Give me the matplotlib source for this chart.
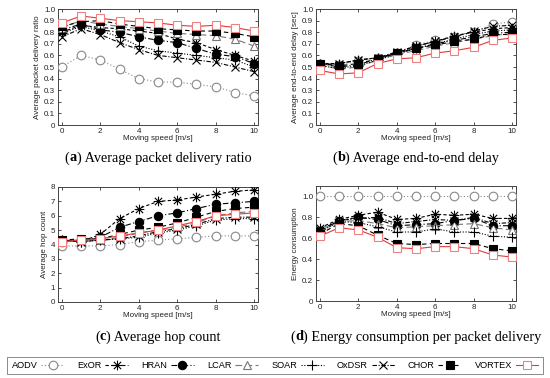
import matplotlib
matplotlib.use("Agg")
import matplotlib.pyplot as plt
from matplotlib.path import Path
import numpy as np

speed = [0, 1, 2, 3, 4, 5, 6, 7, 8, 9, 10]
protocols = ["AODV", "ExOR", "HRAN", "LCAR", "SOAR", "OxDSR", "CHOR", "VORTEX"]

pdr = {
    "AODV":   [0.50, 0.60, 0.56, 0.48, 0.40, 0.37, 0.37, 0.35, 0.33, 0.28, 0.25],
    "ExOR":   [0.80, 0.86, 0.84, 0.83, 0.81, 0.79, 0.74, 0.71, 0.65, 0.60, 0.55],
    "HRAN":   [0.82, 0.87, 0.82, 0.80, 0.76, 0.73, 0.71, 0.66, 0.61, 0.59, 0.53],
    "LCAR":   [0.84, 0.90, 0.87, 0.85, 0.83, 0.81, 0.79, 0.78, 0.77, 0.74, 0.68],
    "SOAR":   [0.79, 0.85, 0.81, 0.76, 0.68, 0.64, 0.62, 0.60, 0.58, 0.56, 0.50],
    "OxDSR":  [0.76, 0.83, 0.78, 0.71, 0.65, 0.60, 0.58, 0.56, 0.54, 0.50, 0.46],
    "CHOR":   [0.85, 0.89, 0.90, 0.87, 0.85, 0.83, 0.82, 0.81, 0.81, 0.79, 0.76],
    "VORTEX": [0.88, 0.94, 0.92, 0.90, 0.89, 0.88, 0.86, 0.85, 0.86, 0.84, 0.81],
}
delay = {
    "AODV":   [0.53, 0.52, 0.55, 0.58, 0.62, 0.69, 0.73, 0.76, 0.80, 0.87, 0.89],
    "ExOR":   [0.53, 0.53, 0.56, 0.58, 0.62, 0.68, 0.72, 0.77, 0.80, 0.83, 0.84],
    "HRAN":   [0.53, 0.50, 0.52, 0.57, 0.62, 0.66, 0.70, 0.73, 0.76, 0.79, 0.80],
    "LCAR":   [0.52, 0.48, 0.50, 0.56, 0.61, 0.64, 0.68, 0.71, 0.74, 0.77, 0.79],
    "SOAR":   [0.51, 0.49, 0.51, 0.56, 0.61, 0.66, 0.70, 0.74, 0.78, 0.81, 0.82],
    "OxDSR":  [0.52, 0.53, 0.56, 0.58, 0.63, 0.68, 0.72, 0.76, 0.81, 0.85, 0.86],
    "CHOR":   [0.53, 0.51, 0.53, 0.57, 0.62, 0.66, 0.69, 0.72, 0.74, 0.78, 0.78],
    "VORTEX": [0.47, 0.44, 0.45, 0.53, 0.57, 0.58, 0.62, 0.64, 0.67, 0.73, 0.75],
}
hops = {
    "AODV":   [3.9, 3.9, 3.9, 4.0, 4.2, 4.3, 4.4, 4.5, 4.6, 4.6, 4.6],
    "ExOR":   [4.3, 4.2, 4.7, 5.8, 6.5, 7.0, 7.1, 7.3, 7.5, 7.7, 7.8],
    "HRAN":   [4.2, 4.3, 4.5, 5.2, 5.6, 6.0, 6.2, 6.5, 6.8, 6.9, 7.0],
    "LCAR":   [4.3, 4.3, 4.3, 4.5, 4.8, 5.0, 5.2, 5.5, 6.0, 6.2, 6.3],
    "SOAR":   [4.3, 4.2, 4.3, 4.4, 4.5, 4.8, 5.0, 5.3, 5.7, 5.8, 5.8],
    "OxDSR":  [4.3, 4.2, 4.3, 4.4, 4.6, 4.9, 5.1, 5.4, 5.8, 5.9, 5.9],
    "CHOR":   [4.3, 4.4, 4.4, 4.7, 5.0, 5.2, 5.5, 5.9, 6.3, 6.5, 6.6],
    "VORTEX": [4.2, 4.3, 4.4, 4.6, 4.8, 5.0, 5.3, 5.6, 6.0, 6.1, 6.2],
}
energy = {
    "AODV":   [1.00, 1.00, 1.00, 1.00, 1.00, 1.00, 1.00, 1.00, 1.00, 1.00, 1.00],
    "ExOR":   [0.70, 0.78, 0.82, 0.85, 0.78, 0.79, 0.83, 0.82, 0.83, 0.79, 0.79],
    "HRAN":   [0.67, 0.77, 0.80, 0.78, 0.72, 0.73, 0.74, 0.77, 0.79, 0.72, 0.72],
    "LCAR":   [0.66, 0.76, 0.77, 0.74, 0.70, 0.71, 0.72, 0.73, 0.74, 0.70, 0.68],
    "SOAR":   [0.66, 0.76, 0.75, 0.71, 0.66, 0.66, 0.69, 0.66, 0.66, 0.62, 0.61],
    "OxDSR":  [0.68, 0.77, 0.79, 0.80, 0.74, 0.76, 0.78, 0.77, 0.80, 0.74, 0.75],
    "CHOR":   [0.64, 0.74, 0.72, 0.63, 0.55, 0.54, 0.55, 0.55, 0.55, 0.50, 0.48],
    "VORTEX": [0.62, 0.70, 0.68, 0.61, 0.51, 0.50, 0.52, 0.52, 0.50, 0.44, 0.42],
}

# gnuplot-style asterisk marker (+ overlaid with x)
star = Path([(0, -1), (0, 1), (-1, 0), (1, 0), (-0.75, -0.75), (0.75, 0.75),
             (-0.75, 0.75), (0.75, -0.75)],
            [Path.MOVETO, Path.LINETO] * 4)

styles = {
    "AODV":   dict(color="#888888", ls=(0, (1, 2)), marker="o", mfc="white", mec="#888888", ms=6.2),
    "ExOR":   dict(color="black", ls=(0, (3, 2)), marker=star, mfc="none", mec="black", ms=7),
    "HRAN":   dict(color="black", ls=(0, (5, 2, 1, 2)), marker="o", mfc="black", mec="black", ms=6),
    "LCAR":   dict(color="#777777", ls=(0, (6, 3)), marker="^", mfc="white", mec="#777777", ms=5.5),
    "SOAR":   dict(color="black", ls=(0, (1, 1.5)), marker="+", mfc="none", mec="black", ms=7),
    "OxDSR":  dict(color="black", ls=(0, (4, 1.5, 1, 1.5)), marker="x", mfc="none", mec="black", ms=6),
    "CHOR":   dict(color="black", ls=(0, (4, 3)), marker="s", mfc="black", mec="black", ms=5.5),
    "VORTEX": dict(color="#e03a3a", ls="-", marker="s", mfc="white", mec="#f08080", ms=6.2),
}

plt.rcParams["font.family"] = ["Liberation Sans", "DejaVu Sans"]

fig = plt.figure(figsize=(5.5, 3.78), dpi=100)
W, H = 550.0, 378.0

def add_axes(l, r, t, b):
    return fig.add_axes([l / W, 1 - b / H, (r - l) / W, (b - t) / H])

panels = [
    (add_axes(58, 258, 9, 125), pdr, (0, 1.0), np.arange(0, 1.01, 0.1), "Average packet delivery ratio",
     "a", " Average packet delivery ratio", 158),
    (add_axes(316, 516, 9, 125), delay, (0, 1.0), np.arange(0, 1.01, 0.1), "Average end-to-end delay [sec]",
     "b", " Average end-to-end delay", 158),
    (add_axes(58, 258, 187, 302), hops, (0, 8), np.arange(0, 9, 1), "Average hop count",
     "c", " Average hop count", 337),
    (add_axes(316, 516, 186, 301), energy, (0, 1.1), np.arange(0, 1.01, 0.2), "Energy consumption",
     "d", " Energy consumption per packet delivery", 337),
]

handles = []
for i, (ax, data, ylim, yt, ylab, letter, cap, capy) in enumerate(panels):
    for p in protocols:
        s = styles[p]
        h, = ax.plot(speed, data[p], color=s["color"], ls=s["ls"], lw=0.8,
                     marker=s["marker"], mfc=s["mfc"], mec=s["mec"], ms=s["ms"], mew=0.8,
                     label=p, zorder=3 if p != "VORTEX" else 4)
        if i == 0:
            handles.append(h)
    ax.set_xlim(-0.2, 10.2)
    ax.set_ylim(*ylim)
    ax.set_xticks([0, 2, 4, 6, 8, 10])
    ax.set_yticks(yt)
    if ylim[1] <= 1.1:
        ax.set_yticklabels(["0" if v == 0 else f"{v:.1f}" for v in yt])
    ax.tick_params(direction="in", length=2.5, width=0.6, labelsize=5.8, pad=2,
                   top=True, right=True, colors="#333333", labelcolor="#222222")
    for sp in ax.spines.values():
        sp.set_linewidth(0.7)
        sp.set_color("#444444")
    ax.set_xlabel("Moving speed [m/s]", fontsize=5.8, labelpad=0.5, color="#222222")
    ax.set_ylabel(ylab, fontsize=5.8, labelpad=2, color="#222222")

# captions with bold letter
FS = 10.3
for (ax, data, ylim, yt, ylab, letter, cap, capy) in panels:
    pos = ax.get_position()
    cx = (pos.x0 + pos.x1) / 2 * W
    parts = [("(", "normal"), (letter, "bold"), (")" + cap, "normal")]
    widths = []
    for txt, wt in parts:
        tmp = fig.text(0, 0, txt, fontsize=FS, family="Liberation Serif", weight=wt)
        fig.canvas.draw()
        widths.append(tmp.get_window_extent().width)
        tmp.remove()
    x = cx - sum(widths) / 2
    for (txt, wt), w in zip(parts, widths):
        fig.text(x / W, 1 - capy / H, txt, fontsize=FS, family="Liberation Serif",
                 weight=wt, va="center")
        x += w

leg = fig.legend(handles=handles, loc="center", bbox_to_anchor=(0.5, 1 - 365.5 / H), ncol=8,
                 markerfirst=False, fontsize=6.6, handlelength=2.5, handletextpad=0.4,
                 columnspacing=1.45, frameon=True, fancybox=False, borderpad=0.45,
                 borderaxespad=0)
leg.get_frame().set_edgecolor("#555555")
leg.get_frame().set_linewidth(0.6)

fig.savefig("out.png", dpi=100)
